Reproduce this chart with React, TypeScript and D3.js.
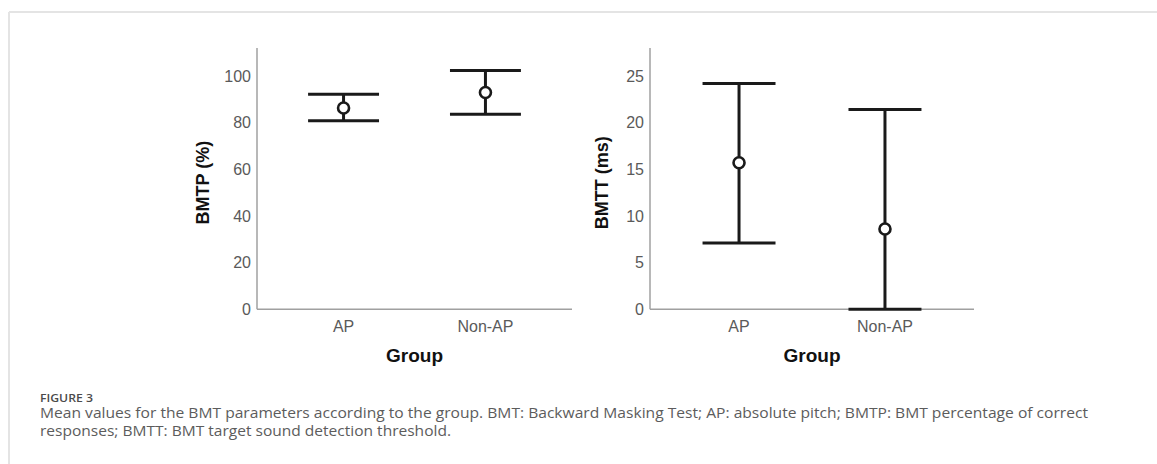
import React from "react";
import * as d3 from "d3";

const groups = ["AP", "Non-AP"];

// BMTP (%) — mean with lower/upper error limits
const bmtpMean = [86.3, 92.9];
const bmtpLow = [80.8, 83.6];
const bmtpHigh = [92.2, 102.4];
const bmtpTicks = [0, 20, 40, 60, 80, 100];

// BMTT (ms) — mean with lower/upper error limits
const bmttMean = [15.7, 8.6];
const bmttLow = [7.1, 0];
const bmttHigh = [24.2, 21.4];
const bmttTicks = [0, 5, 10, 15, 20, 25];

const captionTitle = "FIGURE 3";
const captionLines = [
  "Mean values for the BMT parameters according to the group. BMT: Backward Masking Test; AP: absolute pitch; BMTP: BMT percentage of correct",
  "responses; BMTT: BMT target sound detection threshold.",
];
const captionWidths = [1048, 411];

const W = 1157;
const H = 464;
const AXIS_FONT = "'Liberation Sans', Arial, sans-serif";

type PanelProps = {
  x0: number;
  x1: number;
  yMax: number;
  ticks: number[];
  mean: number[];
  low: number[];
  high: number[];
  yLabel: string;
  yLabelX: number;
};

function Panel({ x0, x1, yMax, ticks, mean, low, high, yLabel, yLabelX }: PanelProps) {
  const yTop = 48;
  const yBottom = 309.3;
  const y = d3.scaleLinear().domain([0, yMax]).range([yBottom, yTop]);
  const x = d3.scalePoint<string>().domain(groups).range([x0, x1]).padding(0.61);
  const capHalf = x.step() * 0.25;
  const midY = (yTop + yBottom) / 2 + 4;

  return (
    <g>
      {/* axes */}
      <line x1={x0} x2={x0} y1={yTop} y2={yBottom} stroke="#a0a0a0" strokeWidth={1.5} />
      <line x1={x0} x2={x1} y1={yBottom} y2={yBottom} stroke="#a0a0a0" strokeWidth={1.5} />

      {ticks.map((t) => (
        <text
          key={t}
          x={x0 - 6}
          y={y(t)}
          dy="0.35em"
          textAnchor="end"
          fontFamily={AXIS_FONT}
          fontSize={16}
          fill="#5a5a5a"
        >
          {t}
        </text>
      ))}

      {groups.map((g) => (
        <text
          key={g}
          x={x(g)}
          y={331.5}
          textAnchor="middle"
          fontFamily={AXIS_FONT}
          fontSize={16}
          fill="#5a5a5a"
        >
          {g}
        </text>
      ))}

      {/* error bars with mean markers */}
      {groups.map((g, i) => {
        const cx = x(g) as number;
        return (
          <g key={g} stroke="#1a1a1a" strokeWidth={3} fill="none">
            <line x1={cx} x2={cx} y1={y(low[i])} y2={y(high[i])} />
            <line x1={cx - capHalf} x2={cx + capHalf} y1={y(high[i])} y2={y(high[i])} />
            <line x1={cx - capHalf} x2={cx + capHalf} y1={y(low[i])} y2={y(low[i])} />
            <circle cx={cx} cy={y(mean[i])} r={5.5} fill="#ffffff" strokeWidth={2.6} />
          </g>
        );
      })}

      <text
        transform={`translate(${yLabelX},${midY}) rotate(-90)`}
        textAnchor="middle"
        dy="0.35em"
        fontFamily={AXIS_FONT}
        fontWeight="bold"
        fontSize={18}
        fill="#111"
      >
        {yLabel}
      </text>
      <text
        x={(x0 + x1) / 2}
        y={362}
        textAnchor="middle"
        fontFamily={AXIS_FONT}
        fontWeight="bold"
        fontSize={19}
        fill="#111"
      >
        Group
      </text>
    </g>
  );
}

export default function App() {
  return (
    <svg
      width={W}
      height={H}
      viewBox={`0 0 ${W} ${H}`}
      style={{ position: "absolute", left: 0, top: 0, background: "#ffffff" }}
    >
      {/* card border */}
      <line x1={9} x2={W} y1={12} y2={12} stroke="#e4e4e4" strokeWidth={2} />
      <line x1={9} x2={9} y1={12} y2={H} stroke="#e4e4e4" strokeWidth={2} />

      <Panel
        x0={257}
        x1={572}
        yMax={112}
        ticks={bmtpTicks}
        mean={bmtpMean}
        low={bmtpLow}
        high={bmtpHigh}
        yLabel="BMTP (%)"
        yLabelX={203}
      />
      <Panel
        x0={650}
        x1={974}
        yMax={28}
        ticks={bmttTicks}
        mean={bmttMean}
        low={bmttLow}
        high={bmttHigh}
        yLabel="BMTT (ms)"
        yLabelX={602}
      />

      <text
        x={40}
        y={401.5}
        fontFamily="'Open Sans', sans-serif"
        fontWeight={600}
        fontSize={11.5}
        fill="#4a4a4a"
        textLength={53}
        lengthAdjust="spacingAndGlyphs"
      >
        {captionTitle}
      </text>
      {captionLines.map((line, i) => (
        <text
          key={i}
          x={40}
          y={417.5 + i * 18.5}
          fontFamily="'Open Sans', sans-serif"
          fontSize={14.5}
          fill="#5c5c5c"
          textLength={captionWidths[i]}
          lengthAdjust="spacingAndGlyphs"
        >
          {line}
        </text>
      ))}
    </svg>
  );
}
